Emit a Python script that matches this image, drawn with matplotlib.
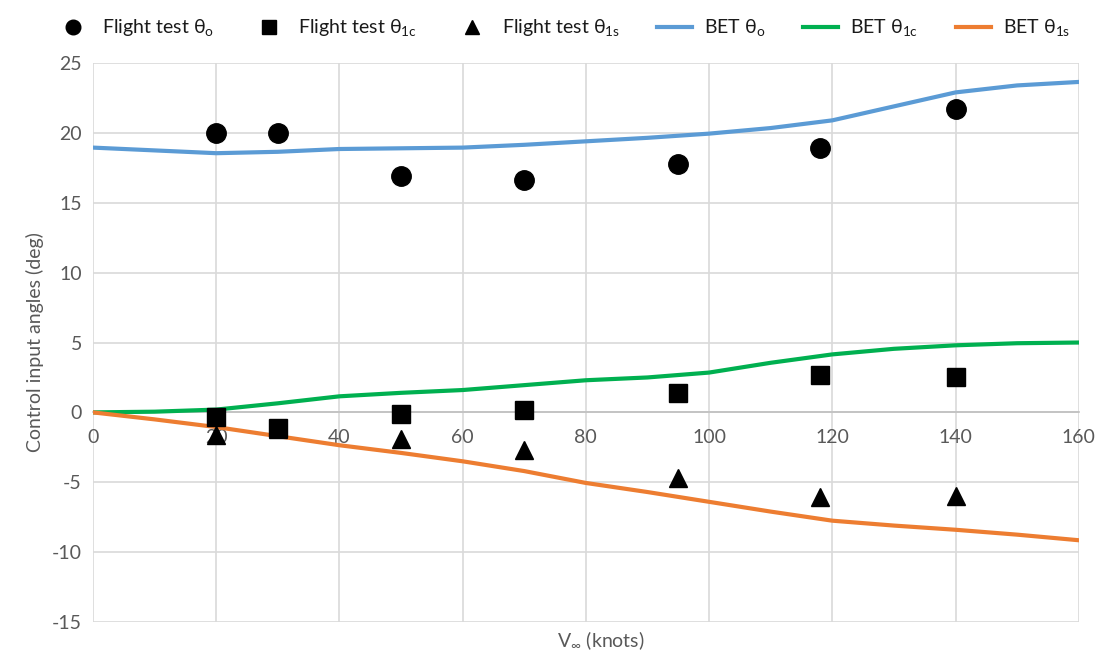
import matplotlib
matplotlib.use("Agg")
import matplotlib.pyplot as plt

plt.rcParams['font.family'] = ['Lato', 'DejaVu Sans']
plt.rcParams['mathtext.fontset'] = 'custom'
plt.rcParams['mathtext.rm'] = 'Lato'
plt.rcParams['mathtext.it'] = 'Lato'
plt.rcParams['axes.unicode_minus'] = False

# flight test data (knots, deg)
test_speed = [20, 30, 50, 70, 95, 118, 140]
test_theta0 = [20.0, 20.0, 16.9, 16.65, 17.75, 18.9, 21.7]
test_theta1c = [-0.35, -1.15, -0.15, 0.15, 1.4, 2.7, 2.5]
test_theta1s = [-1.6, -1.2, -1.9, -2.7, -4.7, -6.05, -5.95]

# blade element theory curves
bet_speed = [0, 10, 20, 30, 40, 50, 60, 70, 80, 90, 100, 110, 120, 130, 140, 150, 160]
bet_theta0 = [18.95, 18.75, 18.55, 18.65, 18.85, 18.9, 18.95, 19.15, 19.4, 19.65, 19.95,
              20.35, 20.9, 21.9, 22.9, 23.4, 23.65]
bet_theta1c = [0.0, 0.05, 0.2, 0.65, 1.15, 1.4, 1.6, 1.95, 2.3, 2.5, 2.85,
               3.55, 4.15, 4.55, 4.8, 4.95, 5.0]
bet_theta1s = [0.0, -0.5, -1.05, -1.7, -2.35, -2.9, -3.5, -4.2, -5.05, -5.7, -6.4,
               -7.1, -7.75, -8.1, -8.4, -8.75, -9.15]

fig = plt.figure(figsize=(11.03, 6.57), dpi=100)
ax = fig.add_axes([0.0843, 0.0533, 0.8937, 0.8507])

grey_txt = '#595959'
grid_c = '#d9d9d9'

# lines first so markers sit on top
l0, = ax.plot(bet_speed, bet_theta0, color='#5b9bd5', lw=3, zorder=3,
              label=r'BET $\theta_{\mathrm{o}}$')
l1, = ax.plot(bet_speed, bet_theta1c, color='#00b050', lw=3, zorder=3,
              label=r'BET $\theta_{\mathrm{1c}}$')
l2, = ax.plot(bet_speed, bet_theta1s, color='#ed7d31', lw=3, zorder=3,
              label=r'BET $\theta_{\mathrm{1s}}$')

m0, = ax.plot(test_speed, test_theta0, 'o', color='black', ms=14, ls='none', zorder=5,
              label=r'Flight test $\theta_{\mathrm{o}}$')
m2, = ax.plot(test_speed, test_theta1s, '^', color='black', ms=13, ls='none', zorder=4,
              label=r'Flight test $\theta_{\mathrm{1s}}$')
m1, = ax.plot(test_speed, test_theta1c, 's', color='black', ms=13, ls='none', zorder=5,
              label=r'Flight test $\theta_{\mathrm{1c}}$')

ax.set_xlim(0, 160)
ax.set_ylim(-15, 25)
ax.set_xticks(range(0, 161, 20))
ax.set_yticks(range(-15, 26, 5))
ax.grid(True, color=grid_c, lw=1.2, zorder=0)
ax.set_axisbelow(True)

for s in ['top', 'right', 'left']:
    ax.spines[s].set_visible(False)
ax.spines['bottom'].set_position(('data', 0))
ax.spines['bottom'].set_color('#bfbfbf')
ax.spines['bottom'].set_linewidth(1.2)
ax.spines['bottom'].set_zorder(1)

ax.tick_params(axis='both', length=0, labelsize=14, colors=grey_txt)
ax.tick_params(axis='x', pad=12)
ax.tick_params(axis='y', pad=8)

ax.set_ylabel('Control input angles (deg)', fontsize=14, color=grey_txt, labelpad=6)
fig.text(0.545, 0.025, r'V$_{\infty}$ (knots)', ha='center', va='center',
         fontsize=14, color=grey_txt)

handles = [m0, m1, m2, l0, l1, l2]
fig.legend(handles=handles, labels=[h.get_label() for h in handles],
           loc='upper center', bbox_to_anchor=(0.51, 1.0), ncol=6, frameon=False,
           fontsize=14, handlelength=1.8, columnspacing=1.95, handletextpad=0.6,
           labelcolor='#1a1a1a', markerscale=0.75)

fig.savefig('out.png', dpi=100)
